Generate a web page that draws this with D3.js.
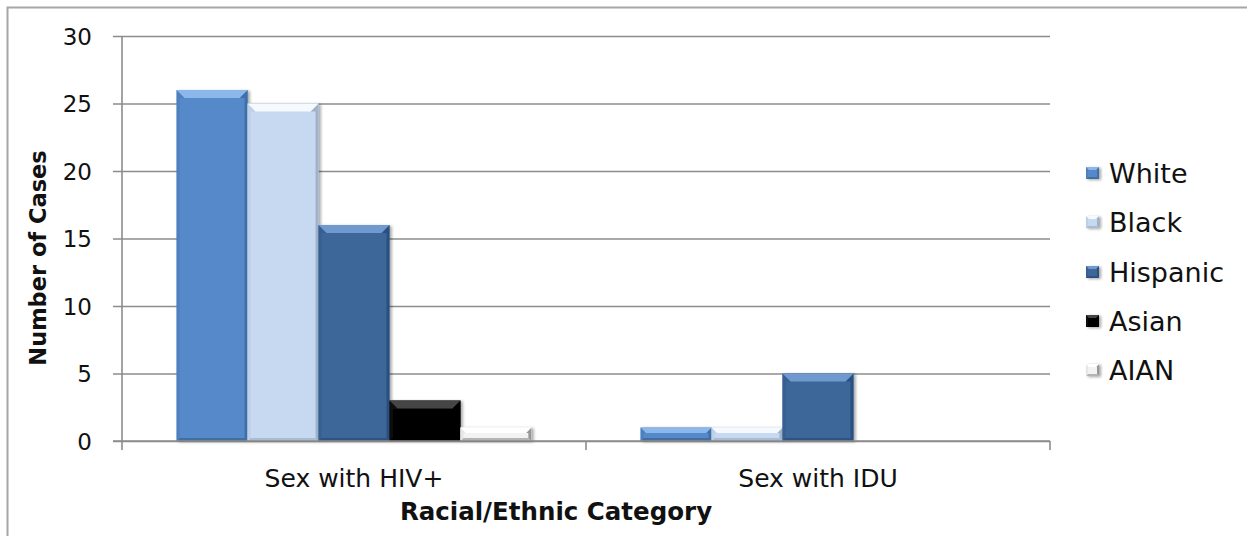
<!DOCTYPE html>
<html>
<head>
<meta charset="utf-8">
<script src="https://cdn.jsdelivr.net/npm/d3@7"></script>
<style>
  html, body { margin: 0; padding: 0; background: #fff; }
  svg { display: block; }
  text { font-family: "DejaVu Sans", sans-serif; fill: #111; }
</style>
</head>
<body>
<svg id="chart" width="1247" height="536"></svg>
<script>
// Transmission categories on the x axis
const categories = ["Sex with HIV+", "Sex with IDU"];
// Racial/ethnic series
const series = ["White", "Black", "Hispanic", "Asian", "AIAN"];
// Number of cases, one array per series (in category order)
const white    = [26, 1];
const black    = [25, 1];
const hispanic = [16, 5];
const asian    = [3, 0];
const aian     = [1, 0];
const yTicks = [0, 5, 10, 15, 20, 25, 30];

const seriesValues = [white, black, hispanic, asian, aian];
const seriesColors = {
  White:    { face: "#5589c9", top: "#8cb7ea", left: "#4f80bd", right: "#3f6fa9", bottom: "#41709f" },
  Black:    { face: "#c6d9f0", top: "#f6f9fd", left: "#bdd0e7", right: "#9fb2c9", bottom: "#a9bcd3" },
  Hispanic: { face: "#3c6699", top: "#6f99d0", left: "#375f8f", right: "#2c5080", bottom: "#2d5283" },
  Asian:    { face: "#060606", top: "#444444", left: "#111111", right: "#000000", bottom: "#000000" },
  AIAN:     { face: "#f2f2f2", top: "#ffffff", left: "#e6e6e6", right: "#979797", bottom: "#b4b4b4" }
};

const svg = d3.select("#chart");

// chart frame
svg.append("rect")
  .attr("x", 7.5).attr("y", 7.5)
  .attr("width", 1260).attr("height", 560)
  .attr("fill", "none").attr("stroke", "#a6a6a6").attr("stroke-width", 2);

const plot = { left: 122, right: 1050, top: 36, bottom: 441 };

const y = d3.scaleLinear().domain([0, 30]).range([plot.bottom, plot.top]);
const x0 = d3.scaleBand().domain(categories).range([plot.left, plot.right]).padding(0);
const x1 = d3.scaleBand().domain(series).range([0, x0.bandwidth()])
  .paddingInner(0).paddingOuter(0.77);

const defs = svg.append("defs");
const shadow = defs.append("filter").attr("id", "barShadow")
  .attr("x", "-20%").attr("y", "-20%").attr("width", "150%").attr("height", "150%");
shadow.append("feDropShadow")
  .attr("dx", 2).attr("dy", 1).attr("stdDeviation", 1.5)
  .attr("flood-color", "#000").attr("flood-opacity", 0.35);

// gridlines with left tick marks
const yAxis = d3.axisLeft(y).tickValues(yTicks)
  .tickSize(-(plot.right - plot.left)).tickSizeOuter(0).tickPadding(30);
const gy = svg.append("g").attr("transform", `translate(${plot.left},0)`).call(yAxis);
gy.select(".domain").remove();
gy.selectAll(".tick line")
  .attr("x1", -9)
  .attr("stroke", "#8c8c8c").attr("stroke-width", 1.6);
gy.selectAll(".tick text")
  .attr("font-family", "DejaVu Sans, sans-serif")
  .attr("font-size", 23).attr("fill", "#111").attr("dy", "0.36em");

// vertical axis line
svg.append("line")
  .attr("x1", plot.left).attr("x2", plot.left)
  .attr("y1", plot.top).attr("y2", plot.bottom + 9)
  .attr("stroke", "#8c8c8c").attr("stroke-width", 1.6);

// category boundary ticks below the baseline
const bounds = [plot.left + x0.bandwidth(), plot.right];
svg.selectAll(".catTick").data(bounds).join("line")
  .attr("x1", d => d).attr("x2", d => d)
  .attr("y1", plot.bottom).attr("y2", plot.bottom + 9)
  .attr("stroke", "#8c8c8c").attr("stroke-width", 1.6);

// beveled bar: wide top facet with 45° corners, thin side and bottom facets
function bevelBar(g, x, yTop, w, h, c, maxB, maxS) {
  if (h <= 0) return;
  const b = Math.min(maxB, h * 0.4, w / 3);
  const s = Math.min(maxS, b);
  const yb = yTop + h;
  const grp = g.append("g").attr("filter", "url(#barShadow)");
  grp.append("rect").attr("x", x).attr("y", yTop).attr("width", w).attr("height", h).attr("fill", c.face);
  grp.append("polygon").attr("points",
    [[x, yb], [x + s, yb - s], [x + w - s, yb - s], [x + w, yb]].join(" ")).attr("fill", c.bottom);
  grp.append("polygon").attr("points",
    [[x, yTop], [x + b, yTop + b], [x + s, yTop + b], [x + s, yb - s], [x, yb]].join(" ")).attr("fill", c.left);
  grp.append("polygon").attr("points",
    [[x + w, yTop], [x + w - b, yTop + b], [x + w - s, yTop + b], [x + w - s, yb - s], [x + w, yb]].join(" ")).attr("fill", c.right);
  grp.append("polygon").attr("points",
    [[x, yTop], [x + w, yTop], [x + w - b, yTop + b], [x + b, yTop + b]].join(" ")).attr("fill", c.top);
}

const bars = svg.append("g");
categories.forEach((cat, ci) => {
  series.forEach((s, si) => {
    const v = seriesValues[si][ci];
    const bx = x0(cat) + x1(s);
    bevelBar(bars, bx, y(v), x1.bandwidth(), y(0) - y(v), seriesColors[s], 8, 3);
  });
});

// baseline drawn over the bars
svg.append("line")
  .attr("x1", plot.left - 9).attr("x2", plot.right)
  .attr("y1", plot.bottom).attr("y2", plot.bottom)
  .attr("stroke", "#8c8c8c").attr("stroke-width", 1.6);

// category labels
svg.selectAll(".catLabel").data(categories).join("text")
  .attr("x", d => x0(d) + x0.bandwidth() / 2)
  .attr("y", 487)
  .attr("text-anchor", "middle")
  .attr("font-size", 25)
  .text(d => d);

// axis titles
svg.append("text")
  .attr("x", 556).attr("y", 520)
  .attr("text-anchor", "middle")
  .attr("font-size", 24.5).attr("font-weight", "bold")
  .text("Racial/Ethnic Category");

svg.append("text")
  .attr("transform", "translate(46,258) rotate(-90)")
  .attr("text-anchor", "middle")
  .attr("font-size", 22.5).attr("font-weight", "bold")
  .text("Number of Cases");

// legend
const legendRows = [173, 222, 272, 321, 370];
const legend = svg.append("g");
series.forEach((s, i) => {
  const cy = legendRows[i];
  bevelBar(legend, 1086, cy - 6, 13, 12, seriesColors[s], 3, 2);
  legend.append("text")
    .attr("x", 1109).attr("y", cy)
    .attr("dy", "0.36em")
    .attr("font-size", 27)
    .text(s);
});
</script>
</body>
</html>
